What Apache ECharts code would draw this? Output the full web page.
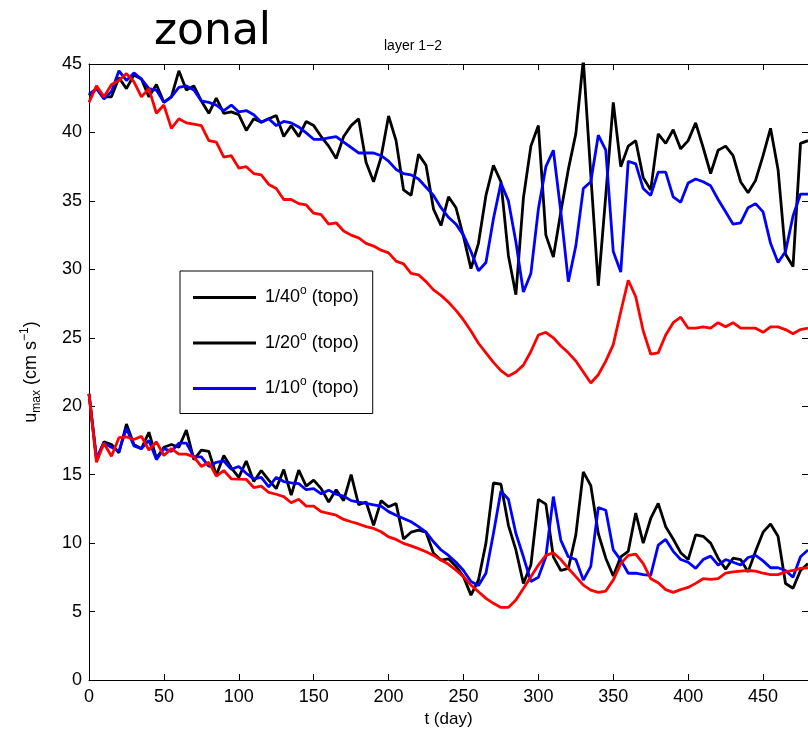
<!DOCTYPE html>
<html>
<head>
<meta charset="utf-8">
<script src="https://cdn.jsdelivr.net/npm/echarts@6/dist/echarts.min.js"></script>
<style>
  html, body { margin: 0; padding: 0; background: #fff; }
  #chart { width: 808px; height: 737px; }
</style>
</head>
<body>
<div id="chart"></div>
<script>
// sample times (day), one sample every 5 days
const days = [];
for (let d = 0; d <= 480; d += 5) days.push(d);

// upper group (layer 1)
const upperBlack = [
  42.7, 43.2, 42.6, 42.6, 44.0, 43.2, 44.2, 43.9, 42.6, 43.5, 42.2, 42.6, 44.5, 43.1, 43.4, 42.3, 41.4, 42.5, 41.4, 41.5,
  41.3, 40.15, 41.0, 40.75, 41.0, 41.24, 39.7, 40.5, 39.7, 40.8, 40.5, 39.7, 39.0, 38.1, 39.7, 40.5, 41.0, 37.8, 36.4, 38.2,
  41.2, 39.4, 35.8, 35.4, 38.4, 37.6, 34.4, 33.2, 35.3, 34.5, 32.4, 30.05, 31.9, 35.4, 37.6, 36.4, 31.0, 28.15, 35.2, 39.0,
  40.5, 32.5, 30.9, 34.2, 37.3, 39.9, 45.3, 36.9, 28.8, 35.4, 42.2, 37.5, 39.0, 39.4, 36.7, 35.8, 39.9, 39.2, 40.2, 38.8,
  39.4, 40.7, 38.9, 37.0, 38.7, 39.0, 38.3, 36.4, 35.6, 36.5, 38.3, 40.3, 37.3, 31.1, 30.2, 39.2, 39.4
];
const upperBlue = [
  42.8, 43.2, 42.45, 43.0, 44.5, 43.8, 44.35, 43.9, 43.2, 43.1, 42.2, 42.6, 43.3, 43.4, 43.1, 42.3, 42.2, 42.0, 41.6, 42.0,
  41.5, 41.6, 41.3, 40.75, 41.0, 40.5, 40.8, 40.7, 40.4, 39.97, 39.5, 39.5, 39.6, 39.7, 39.3, 38.9, 38.5, 38.5, 38.5, 38.3,
  37.9, 37.3, 37.0, 36.9, 36.6, 36.0, 35.4, 34.5, 33.8, 33.3, 32.5, 31.3, 29.9, 30.5, 33.7, 36.3, 35.0, 32.0, 28.35, 29.7,
  34.4, 37.5, 38.7, 34.2, 29.1, 31.7, 35.9, 36.4, 39.8, 38.7, 31.3, 29.8, 37.9, 37.7, 35.9, 35.4, 37.1, 37.1, 35.3, 34.9,
  36.3, 36.6, 36.4, 36.1, 35.1, 34.2, 33.3, 33.4, 34.5, 34.8, 34.2, 31.9, 30.5, 31.3, 33.9, 35.5, 35.5
];
const upperRed = [
  42.2, 43.4, 42.6, 43.5, 43.8, 44.3, 43.7, 42.6, 43.2, 41.4, 42.0, 40.3, 41.0, 40.7, 40.6, 40.5, 39.4, 39.3, 38.2, 38.3,
  37.4, 37.5, 37.0, 36.9, 36.2, 35.9, 35.1, 35.1, 34.8, 34.7, 34.1, 34.0, 33.3, 33.4, 32.8, 32.5, 32.3, 31.9, 31.7, 31.4,
  31.2, 30.6, 30.4, 29.7, 29.6, 29.1, 28.5, 28.1, 27.6, 27.0, 26.3, 25.5, 24.6, 23.9, 23.2, 22.6, 22.2, 22.5, 23.0, 24.0,
  25.2, 25.4, 25.0, 24.4, 23.9, 23.3, 22.5, 21.7, 22.3, 23.3, 24.5, 26.9, 29.2, 28.0, 25.5, 23.8, 23.9, 25.2, 26.1, 26.5,
  25.7, 25.7, 25.8, 25.7, 26.1, 25.8, 26.1, 25.7, 25.7, 25.7, 25.4, 25.8, 25.8, 25.6, 25.3, 25.6, 25.7
];

// lower group (layer 2)
const lowerBlack = [
  20.9, 16.1, 17.4, 17.2, 16.6, 18.7, 17.2, 16.9, 18.1, 16.2, 17.0, 17.2, 17.0, 18.25, 16.1, 16.8, 16.7, 14.96, 16.4, 15.5,
  14.8, 16.0, 14.5, 15.3, 14.6, 13.98, 15.37, 13.5, 15.33, 14.16, 14.6, 13.98, 13.0, 13.9, 13.1, 15.0, 12.8, 13.0, 11.3, 13.1,
  12.65, 12.9, 10.3, 10.8, 10.95, 10.8, 9.25, 8.76, 8.85, 8.3, 7.55, 6.2, 7.3, 10.0, 14.4, 14.3, 11.3, 9.5, 7.06, 8.4,
  13.2, 12.85, 9.0, 8.0, 8.15, 10.6, 15.2, 14.2, 10.7, 8.9, 7.6, 9.0, 9.4, 12.2, 10.0, 11.8, 12.9, 11.2, 10.3, 9.3,
  8.8, 10.6, 10.5, 10.0, 8.9, 8.1, 8.9, 8.8, 7.9, 9.4, 10.8, 11.4, 10.5, 7.05, 6.7, 8.0, 8.5
];
const lowerBlue = [
  20.9, 16.2, 17.3, 17.0, 16.7, 18.4, 17.1, 16.9, 17.5, 16.1, 16.9, 16.7, 17.3, 17.3, 16.3, 16.3, 15.6, 15.9, 16.0, 15.4,
  15.6, 15.1, 14.7, 14.8, 14.1, 14.8, 14.5, 14.4, 14.35, 13.9, 13.98, 13.6, 13.87, 13.57, 13.43, 13.1, 13.0, 12.9, 12.8, 12.7,
  12.3, 12.04, 11.8, 11.56, 11.2, 10.8, 10.1, 9.5, 9.1, 8.6, 8.0, 7.2, 6.9, 7.8, 10.7, 13.8, 13.2, 10.7, 9.0, 7.2,
  7.5, 9.0, 13.4, 10.2, 9.0, 8.8, 7.3, 8.3, 12.6, 12.4, 9.5, 8.76, 7.8, 7.8, 7.7, 7.65, 9.85, 10.27, 9.4, 8.8,
  8.6, 8.15, 8.8, 9.05, 8.4, 8.8, 8.6, 8.4, 8.95, 9.1, 8.7, 8.2, 8.2, 8.0, 7.5, 9.0, 9.5
];
const lowerRed = [
  20.9, 15.9, 17.3, 16.35, 17.7, 17.76, 17.57, 17.8, 16.8, 17.4, 16.4, 16.9, 16.5, 16.5, 16.3, 15.6, 15.9, 14.9, 15.3, 14.7,
  14.67, 14.65, 14.06, 14.16, 13.7, 13.57, 13.4, 12.95, 13.2, 12.7, 12.7, 12.3, 12.17, 12.04, 11.73, 11.56, 11.4, 11.2, 11.07, 10.83,
  10.46, 10.27, 9.98, 9.8, 9.6, 9.37, 9.1, 8.76, 8.45, 8.03, 7.55, 6.93, 6.45, 5.96, 5.6, 5.3, 5.3, 5.84, 6.68, 7.55,
  8.4, 9.1, 9.3, 8.8, 8.15, 7.55, 6.93, 6.57, 6.4, 6.5, 7.3, 8.5, 9.1, 9.2, 8.5, 7.4, 7.1, 6.6, 6.4, 6.6,
  6.76, 7.06, 7.4, 7.35, 7.4, 7.8, 7.9, 7.96, 8.0, 7.96, 7.8, 7.7, 7.7, 7.9, 8.0, 8.15, 8.2
];

// axis ticks
const xTicks = { min: 0, max: 480, step: 50 };
const yTicks = { min: 0, max: 45, step: 5 };

const legendLabels = ['1/40', '1/20', '1/10'];
const legendNames = ['1/40° (topo)', '1/20° (topo)', '1/10° (topo)'];

const FONT = 'Liberation Sans, Arial, Helvetica, sans-serif';
const TITLE_FONT = 'DejaVu Sans, Verdana, sans-serif';
const pairs = vals => days.map((d, i) => [d, vals[i]]);

function line(name, color, vals) {
  return {
    name, type: 'line', data: pairs(vals), showSymbol: false, symbol: 'none',
    color, lineStyle: { color, width: 2.8 }, animation: false, z: 2
  };
}

// box frame: every axis keeps its own edge of the grid
const tick = () => ({ show: true, inside: true, length: 6, lineStyle: { color: '#000', width: 1 } });
const frame = () => ({ show: true, onZero: false, lineStyle: { color: '#000', width: 1 } });

const chart = echarts.init(document.getElementById('chart'), null, { renderer: 'canvas' });
chart.setOption({
  backgroundColor: '#fff',
  animation: false,
  title: [
    { text: 'zonal', left: 149, top: 6, textStyle: { fontFamily: TITLE_FONT, fontSize: 44, fontWeight: 'normal', color: '#000' } },
    { text: 'layer 1\u22122', left: 379, top: 34, textStyle: { fontFamily: FONT, fontSize: 14, fontWeight: 'normal', color: '#000' } }
  ],
  grid: { left: 89, right: -1, top: 64, bottom: 57, containLabel: false },
  xAxis: [
    {
      type: 'value', position: 'bottom', min: xTicks.min, max: xTicks.max, interval: xTicks.step,
      axisLine: frame(), axisTick: tick(), splitLine: { show: false },
      axisLabel: { color: '#000', fontFamily: FONT, fontSize: 18, margin: 8, showMaxLabel: false },
      name: 't (day)', nameLocation: 'middle', nameGap: 30,
      nameTextStyle: { color: '#000', fontFamily: FONT, fontSize: 17 }
    },
    {
      type: 'value', position: 'top', min: xTicks.min, max: xTicks.max, interval: xTicks.step,
      axisLine: frame(), axisTick: tick(), axisLabel: { show: false }, splitLine: { show: false }
    }
  ],
  yAxis: [
    {
      type: 'value', position: 'left', min: yTicks.min, max: yTicks.max, interval: yTicks.step,
      axisLine: frame(), axisTick: tick(), splitLine: { show: false },
      axisLabel: { color: '#000', fontFamily: FONT, fontSize: 18, margin: 7 },
      name: '{n|u}{sub|max}{n| (cm s}{sup|\u22121}{n|)}',
      nameLocation: 'middle', nameGap: 46, nameRotate: 90,
      nameTextStyle: {
        color: '#000', fontFamily: FONT,
        rich: {
          n: { fontSize: 18, fontFamily: FONT, color: '#000' },
          sub: { fontSize: 12, fontFamily: FONT, color: '#000', padding: [12, 0, 0, 0] },
          sup: { fontSize: 12, fontFamily: FONT, color: '#000', padding: [0, 0, 12, 0] }
        }
      }
    },
    {
      type: 'value', position: 'right', min: yTicks.min, max: yTicks.max, interval: yTicks.step,
      axisLine: frame(), axisTick: tick(), axisLabel: { show: false }, splitLine: { show: false }
    }
  ],
  legend: {
    orient: 'vertical', left: 180, top: 271,
    data: legendNames,
    icon: 'rect', itemWidth: 63, itemHeight: 3, itemGap: 22,
    padding: [14, 14, 14, 13],
    borderColor: '#000', borderWidth: 1, backgroundColor: '#fff',
    selectedMode: false,
    formatter: name => {
      const i = legendNames.indexOf(name);
      return '{a|' + legendLabels[i] + '}{s|o}{a| (topo)}';
    },
    textStyle: {
      padding: [0, 0, 0, 4], lineHeight: 22,
      rich: {
        a: { fontSize: 18, fontFamily: FONT, color: '#000' },
        s: { fontSize: 12, fontFamily: FONT, color: '#000', padding: [0, 0, 13, 0] }
      }
    }
  },
  series: [
    line(legendNames[0], '#000000', upperBlack),
    line(legendNames[1], '#000000', lowerBlack),
    line(legendNames[2], '#0000ff', upperBlue),
    line(legendNames[2], '#0000ff', lowerBlue),
    line('layer 1 flat', '#ff0000', upperRed),
    line('layer 2 flat', '#ff0000', lowerRed)
  ]
});
</script>
</body>
</html>
